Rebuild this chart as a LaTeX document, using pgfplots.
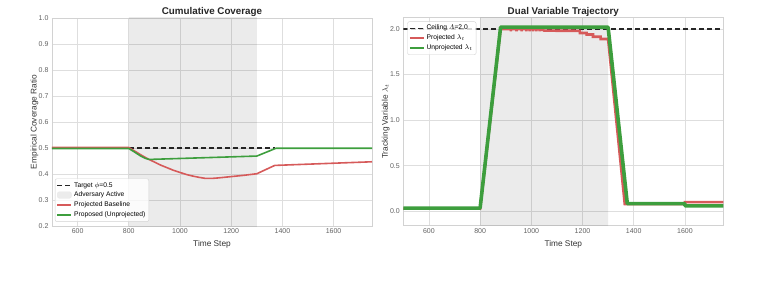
\documentclass[border=0pt]{standalone}
\usepackage{pgfplots}
\pgfplotsset{compat=1.18}
\usepackage{amsmath}
\usepackage{fontspec}
\setmainfont{Liberation Sans}
\definecolor{cred}{HTML}{D65A5A}
\definecolor{cgreen}{HTML}{3D9E3D}
\definecolor{gridc}{HTML}{DEDEDE}
\definecolor{framec}{HTML}{D2D2D2}
\pgfplotsset{
  mystyle/.style={
    scale only axis, width=320pt, height=208pt,
    xmin=500, xmax=1750,
    xtick={600,800,1000,1200,1400,1600},
    grid=major, major grid style={gridc, line width=0.8pt},
    axis line style={framec, line width=0.8pt},
    major tick length=0pt,
    /pgf/number format/assume math mode=true,
    tick label style={font=\fontsize{7}{8}\selectfont, color=black!62},
    xticklabel style={/pgf/number format/1000 sep={}, yshift=1pt},
    yticklabel style={/pgf/number format/.cd, fixed, fixed zerofill, precision=1},
    label style={font=\fontsize{8.3}{10}\selectfont, color=black!80},
    ylabel style={yshift=-6.5pt},
    title style={font=\bfseries\fontsize{9.8}{11}\selectfont, color=black!85, yshift=-8pt},
    legend cell align=left,
    legend style={font=\fontsize{6.7}{8}\selectfont, draw=framec, rounded corners=2pt,
      fill=white, fill opacity=0.8, draw opacity=1, text opacity=1, inner sep=1.5pt, row sep=-0.5pt},
    legend image code/.code={\draw[#1] plot coordinates {(0pt,0pt) (7pt,0pt) (14pt,0pt)};},
  }
}
\begin{document}
\begin{tikzpicture}[x=1pt,y=1pt]
\useasboundingbox (0,0) rectangle (764,-281);
% ---------- Left ----------
\begin{axis}[mystyle,
  at={(52pt,-226pt)}, anchor=south west,
  ymin=0.2, ymax=1.0,
  ytick={0.2,0.3,0.4,0.5,0.6,0.7,0.8,0.9,1.0},
  title={Cumulative Coverage},
  xlabel={Time Step},
  ylabel={Empirical Coverage Ratio},
  legend style={at={(0.009,0.02)}, anchor=south west},
]
\addplot[black!85, line width=1.5pt, dash pattern=on 5pt off 3pt] coordinates {(800,0.5) (1370,0.5)};
\addlegendentry{Target $\phi$=0.5}
\addplot[draw=none, fill=black, fill opacity=0.08, forget plot] coordinates {(800,0) (800,1.1) (1300,1.1) (1300,0) (800,0)};
\addlegendimage{legend image code/.code={\fill[black!9] (0pt,-3pt) rectangle (14pt,3.5pt);}}
\addlegendentry{Adversary Active}
\addplot[cred, line width=1.6pt, line join=round] coordinates {
 (500,0.502) (800,0.502) (825,0.487) (850,0.472) (875,0.458) (900,0.446) (925,0.434) (950,0.424)
 (975,0.414) (1000,0.406) (1025,0.398) (1050,0.392) (1075,0.387) (1100,0.383) (1125,0.383)
 (1150,0.385) (1200,0.390) (1250,0.395) (1300,0.401) (1370,0.433) (1750,0.447)};
\addlegendentry{Projected Baseline}
\addplot[cgreen, line width=1.6pt, line join=round] coordinates {
 (500,0.498) (800,0.498) (820,0.486) (845,0.470) (865,0.460) (880,0.456) (1300,0.469) (1375,0.499) (1750,0.499)};
\addlegendentry{Proposed (Unprojected)}
\end{axis}
% ---------- Right ----------
\begin{axis}[mystyle,
  at={(403.3pt,-225.7pt)}, anchor=south west,
  ymin=-0.158, ymax=2.124,
  ytick={0,0.5,1,1.5,2},
  title={Dual Variable Trajectory},
  xlabel={Time Step},
  ylabel={Tracking Variable $\lambda_t$},
  legend style={at={(0.0125,0.982)}, anchor=north west},
]
\addplot[black!85, line width=1.5pt, dash pattern=on 5pt off 3pt] coordinates {(500,2.0) (1750,2.0)};
\addlegendentry{Ceiling $\varLambda$=2.0}
\addplot[draw=none, fill=black, fill opacity=0.08, forget plot] coordinates {(800,-1) (800,3) (1300,3) (1300,-1) (800,-1)};
\addplot[cred, line width=2.6pt, line join=miter, line cap=butt, legend image post style={line width=1.6pt}] coordinates {
 (500,0.03) (800,0.03) (880,2.0)
 (920,2.0) (920,1.975) (920,2.0)
 (942,2.0) (942,1.975) (942,2.0)
 (962,2.0) (962,1.975) (962,2.0)
 (981,2.0) (981,1.975) (981,2.0)
 (994,2.0) (994,1.975) (994,2.0)
 (1007,2.0) (1007,1.975) (1007,2.0)
 (1020,2.0) (1020,1.975) (1020,2.0)
 (1033,2.0) (1033,1.975) (1033,1.99)
 (1046,1.99) (1050,1.982)
 (1190,1.98) (1190,1.956) (1216,1.956) (1216,1.94) (1241,1.94) (1241,1.915)
 (1271,1.915) (1271,1.89) (1300,1.89) (1365,0.08) (1600,0.08) (1600,0.10) (1750,0.10)};
\addlegendentry{Projected $\lambda_t$}
\addplot[cgreen, line width=3.6pt, line join=round, legend image post style={line width=1.6pt}] coordinates {
 (500,0.035) (800,0.035) (880,2.02) (1300,2.02) (1375,0.085) (1600,0.085) (1600,0.06) (1750,0.06)};
\addlegendentry{Unprojected $\lambda_t$}
\end{axis}
\end{tikzpicture}
\end{document}
